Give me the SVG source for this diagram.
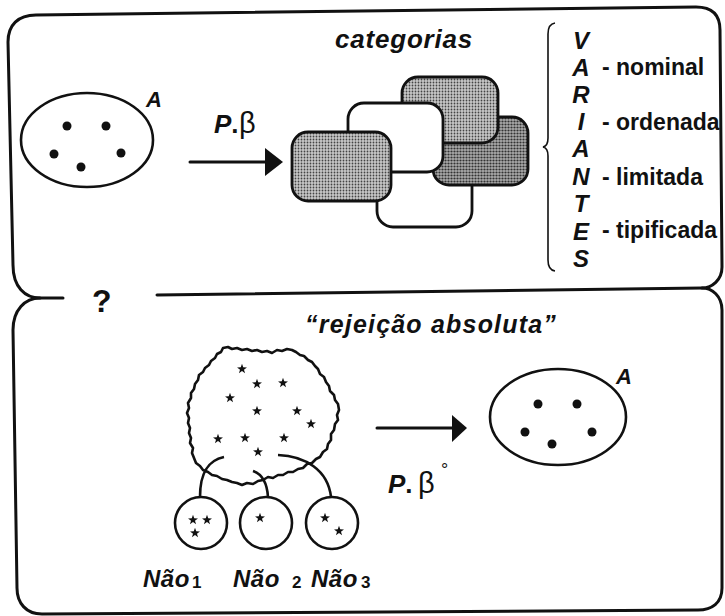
<svg xmlns="http://www.w3.org/2000/svg" xmlns:xlink="http://www.w3.org/1999/xlink" width="725" height="616" viewBox="0 0 725 616">
<style>
.ln{fill:none;stroke:#111;stroke-width:3;stroke-linecap:round;stroke-linejoin:round}
.th{fill:none;stroke:#111;stroke-width:2.6;stroke-linejoin:round}
.bi{font-family:"Liberation Sans",Arial,sans-serif;font-weight:bold;font-style:italic;fill:#111}
.b{font-family:"Liberation Sans",Arial,sans-serif;font-weight:bold;fill:#111}
.r{font-family:"Liberation Sans",Arial,sans-serif;font-weight:normal;font-style:normal;fill:#111}
.dot{fill:#111}
.card{stroke:#111;stroke-width:2.8}
</style>
<defs>
<pattern id="dotsL" width="3" height="3" patternUnits="userSpaceOnUse"><rect width="3" height="3" fill="#c8c8c8"/><circle cx="1.5" cy="1.5" r="0.9" fill="#444"/></pattern>
<pattern id="dotsD" width="3" height="3" patternUnits="userSpaceOnUse"><rect width="3" height="3" fill="#ababab"/><circle cx="1.5" cy="1.5" r="1.1" fill="#333"/></pattern>
<path id="star" d="M0,-5.2 L1.22,-1.68 L4.95,-1.61 L1.98,0.65 L3.06,4.21 L0,2.08 L-3.06,4.21 L-1.98,0.65 L-4.95,-1.61 L-1.22,-1.68 Z" fill="#111"/>
</defs>
<rect width="725" height="616" fill="#fff"/>

<g id="frame">
<path class="ln" d="M63,298 L40,298 C25,298 13,287 13,265 L8,42 C8,25 18,15 36,15 L696,7 C712,7 720,15 720,30 L722,267 C722,280 712,288 702,288 L157,295"/>
<path class="ln" d="M40,298 C25,298 13,310 13,330 L17,588 C17,603 26,614 42,614 L698,610 C712,610 722,603 722,588 L722,310 C722,296 712,288 702,288"/>
<text class="b" x="92" y="312" font-size="32">?</text>
</g>

<g id="set-top">
<ellipse class="th" cx="87" cy="140" rx="66" ry="47"/>
<circle class="dot" cx="67" cy="126" r="4.5"/>
<circle class="dot" cx="106" cy="126" r="4.5"/>
<circle class="dot" cx="54" cy="154" r="4.5"/>
<circle class="dot" cx="121" cy="153" r="4.5"/>
<circle class="dot" cx="81" cy="167" r="4.5"/>
<text class="bi" x="146" y="107" font-size="22">A</text>
</g>

<g id="categorias">
<text class="bi" x="335" y="48" font-size="26" letter-spacing="0.8">categorias</text>
<rect class="card" x="377" y="150" width="95" height="77" rx="16" fill="#fff"/>
<rect class="card" x="433" y="117" width="95" height="68" rx="16" fill="url(#dotsD)"/>
<rect class="card" x="402" y="77" width="96" height="66" rx="16" fill="url(#dotsL)"/>
<rect class="card" x="348" y="103" width="95" height="69" rx="16" fill="#fff"/>
<rect class="card" x="292" y="132" width="99" height="69" rx="16" fill="url(#dotsL)"/>
</g>

<g id="variantes">
<path fill="none" stroke="#111" stroke-width="1.6" d="M555,23 Q548,24 548,34 L548,138 Q548,146 543,147 Q548,148 548,156 L548,260 Q548,270 555,271"/>
<text class="bi" font-size="24" text-anchor="middle"><tspan x="581" y="49">V</tspan><tspan x="581" y="76">A</tspan><tspan x="581" y="103">R</tspan><tspan x="581" y="130">I</tspan><tspan x="581" y="157">A</tspan><tspan x="581" y="185">N</tspan><tspan x="581" y="212">T</tspan><tspan x="581" y="240">E</tspan><tspan x="581" y="267">S</tspan></text>
<g class="b" font-size="23">
<text x="602" y="75">- nominal</text>
<text x="602" y="130">- ordenada</text>
<text x="602" y="185">- limitada</text>
<text x="602" y="238">- tipificada</text>
</g>
</g>

<g id="rejeicao-title">
<text class="bi" x="305" y="333" font-size="25" letter-spacing="1.2">“rejeição absoluta”</text>
</g>

<g id="blob">
<path class="th" d="M223,348 L228,347 L232,349 L237,348 L242,350 L247,349 L252,351 L257,350 L262,352 L267,351 L272,353 L277,350 L282,351 L287,349 L292,350 L296,352 L300,355 L304,356 L308,360 L312,362 L315,366 L318,369 L320,374 L324,377 L326,382 L329,386 L330,391 L334,395 L335,400 L338,404 L339,410 L337,415 L338,420 L335,424 L334,430 L331,434 L331,440 L328,444 L327,449 L323,452 L320,457 L316,459 L312,463 L307,464 L303,468 L298,469 L293,472 L288,472 L283,475 L278,475 L273,478 L268,477 L263,480 L258,481 L253,484 L247,483 L242,485 L237,483 L232,482 L227,480 L222,479 L217,476 L212,475 L208,472 L203,470 L200,466 L196,463 L194,458 L192,453 L193,448 L190,443 L191,438 L189,433 L190,428 L188,423 L189,418 L187,413 L189,408 L188,403 L191,398 L191,393 L194,389 L195,384 L198,380 L199,375 L203,372 L205,368 L209,365 L211,361 L215,358 L217,354 L221,352 Z"/>
<use xlink:href="#star" x="242" y="369"/>
<use xlink:href="#star" x="257" y="384"/>
<use xlink:href="#star" x="283" y="383"/>
<use xlink:href="#star" x="230" y="398"/>
<use xlink:href="#star" x="257" y="411"/>
<use xlink:href="#star" x="297" y="411"/>
<use xlink:href="#star" x="311" y="424"/>
<use xlink:href="#star" x="218" y="439"/>
<use xlink:href="#star" x="245" y="438"/>
<use xlink:href="#star" x="284" y="438"/>
<use xlink:href="#star" x="258" y="452"/>
</g>

<g id="nao1">
<circle class="th" cx="201" cy="523" r="26"/>
<use xlink:href="#star" x="193" y="520"/>
<use xlink:href="#star" x="207" y="520"/>
<use xlink:href="#star" x="195" y="533"/>
<text class="bi" x="143" y="587" font-size="24" letter-spacing="0.5">Não</text>
<text class="b" x="192" y="588" font-size="17">1</text>
</g>
<g id="nao2">
<circle class="th" cx="266" cy="523" r="26"/>
<use xlink:href="#star" x="260" y="518"/>
<text class="bi" x="233" y="587" font-size="24" letter-spacing="0.5">Não</text>
<text class="b" x="292" y="588" font-size="17">2</text>
</g>
<g id="nao3">
<circle class="th" cx="332" cy="523" r="26"/>
<use xlink:href="#star" x="325" y="518"/>
<use xlink:href="#star" x="339" y="531"/>
<text class="bi" x="311" y="587" font-size="24" letter-spacing="0.5">Não</text>
<text class="b" x="361" y="588" font-size="17">3</text>
</g>

<g id="set-bottom">
<ellipse class="th" cx="558" cy="417" rx="68" ry="48"/>
<circle class="dot" cx="538" cy="404" r="4.5"/>
<circle class="dot" cx="577" cy="404" r="4.5"/>
<circle class="dot" cx="525" cy="432" r="4.5"/>
<circle class="dot" cx="592" cy="432" r="4.5"/>
<circle class="dot" cx="552" cy="444" r="4.5"/>
<text class="bi" x="616" y="384" font-size="22">A</text>
</g>

<g id="connectors">
<line class="ln" x1="190" y1="162" x2="268" y2="162"/>
<polygon points="265,148 283,162 265,176" fill="#111"/>
<text font-size="26"><tspan class="bi" x="214" y="133">P</tspan><tspan class="b">.</tspan><tspan class="r" x="239" font-size="29">β</tspan></text>
<line class="ln" x1="377" y1="428" x2="455" y2="428"/>
<polygon points="452,415 467,428 452,442" fill="#111"/>
<text font-size="26"><tspan class="bi" x="388" y="493">P</tspan><tspan class="b">.</tspan><tspan class="r" x="418" font-size="29">β</tspan></text>
<text class="r" x="441" y="476" font-size="18">°</text>
<path class="th" d="M224,457 C210,460 200,470 200,497"/>
<path class="th" d="M253,471 C262,474 267,482 268,497"/>
<path class="th" d="M278,455 C305,456 328,470 331,497"/>
</g>
</svg>
